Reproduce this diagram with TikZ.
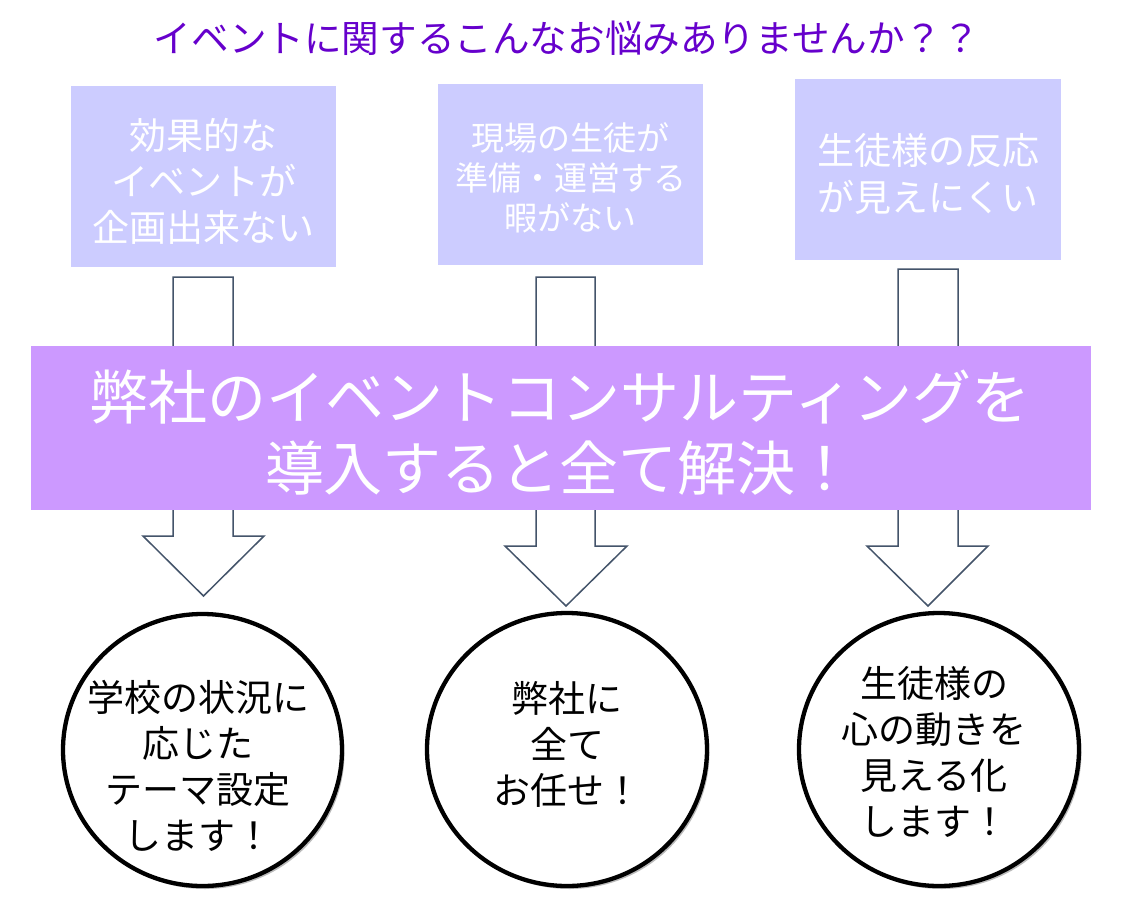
\documentclass[tikz,border=0pt]{standalone}
\usepackage{fontspec}
\setmainfont{Noto Sans CJK JP}
\usetikzlibrary{shapes.geometric,shadows}
\definecolor{boxfill}{HTML}{CCCCFF}
\definecolor{bannerfill}{HTML}{CC99FF}
\definecolor{titlecol}{HTML}{6600CC}
\definecolor{arrowline}{HTML}{44546A}
\begin{document}
\begin{tikzpicture}[x=1pt,y=-1pt,
  problem/.style={rectangle, fill=boxfill, inner sep=0pt, minimum width=265pt, minimum height=181pt},
  boxtext/.style={text=white, align=center, inner sep=0pt},
  banner/.style={rectangle, fill=bannerfill, inner sep=0pt, minimum width=1060pt, minimum height=164pt},
  blockarrow/.style={draw=arrowline, line width=1.5pt, fill=white, line join=miter},
  result/.style={ellipse, draw=black, line width=4.3pt, fill=white, inner sep=0pt,
     drop shadow={shadow xshift=2.5pt, shadow yshift=-3pt, opacity=0.45, fill=black!60}},
  restext/.style={text=black, align=center, inner sep=0pt, font=\fontsize{37}{46}\selectfont}
]
\useasboundingbox[fill=white] (0,0) rectangle (1136,903);

% title
\node[text=titlecol, inner sep=0pt, font=\fontsize{37.6}{40}\selectfont] (title) at (567,38) {イベントに関するこんなお悩みありませんか？？};

% problem boxes
\node[problem] (p1) at (203.5,176.5) {};
\node[problem] (p2) at (570.5,174.5) {};
\node[problem, minimum width=266pt] (p3) at (928,169.5) {};
\node[boxtext, font=\fontsize{37}{46}\selectfont] (t1) at (203.5,181) {効果的な\\イベントが\\企画出来ない};
\node[boxtext, font=\fontsize{33}{40}\selectfont] (t2) at (570.5,178) {現場の生徒が\\準備・運営する\\暇がない};
\node[boxtext, font=\fontsize{37}{47}\selectfont] (t3) at (928,173.5) {生徒様の反応\\が見えにくい};

% block arrows
\draw[blockarrow] (173,277) -- (233,277) -- (233,536) -- (264,536) -- (203.5,596) -- (143,536) -- (173,536) -- cycle;
\draw[blockarrow] (536,277) -- (595,277) -- (595,546) -- (627,546) -- (566,606) -- (505,546) -- (536,546) -- cycle;
\draw[blockarrow] (898,269) -- (958,269) -- (958,546) -- (988,546) -- (928,606) -- (867,546) -- (898,546) -- cycle;

% banner
\node[banner] (bn) at (561,428) {};
\node[boxtext, font=\fontsize{59}{71}\selectfont] (bt) at (560,432.5) {弊社のイベントコンサルティングを\\導入すると全て解決！};

% result circles
\node[result, minimum width=279pt, minimum height=272pt] (c1) at (202.5,750) {};
\node[result, minimum width=280pt, minimum height=273pt] (c2) at (567,749.5) {};
\node[result, minimum width=280pt, minimum height=273pt] (c3) at (939,749.5) {};
\node[restext] (r1) at (198,766) {学校の状況に\\応じた\\テーマ設定\\します！};
\node[restext] (r2) at (567,744) {弊社に\\全て\\お任せ！};
\node[restext] (r3) at (934,752) {生徒様の\\心の動きを\\見える化\\します！};
\end{tikzpicture}
\end{document}
